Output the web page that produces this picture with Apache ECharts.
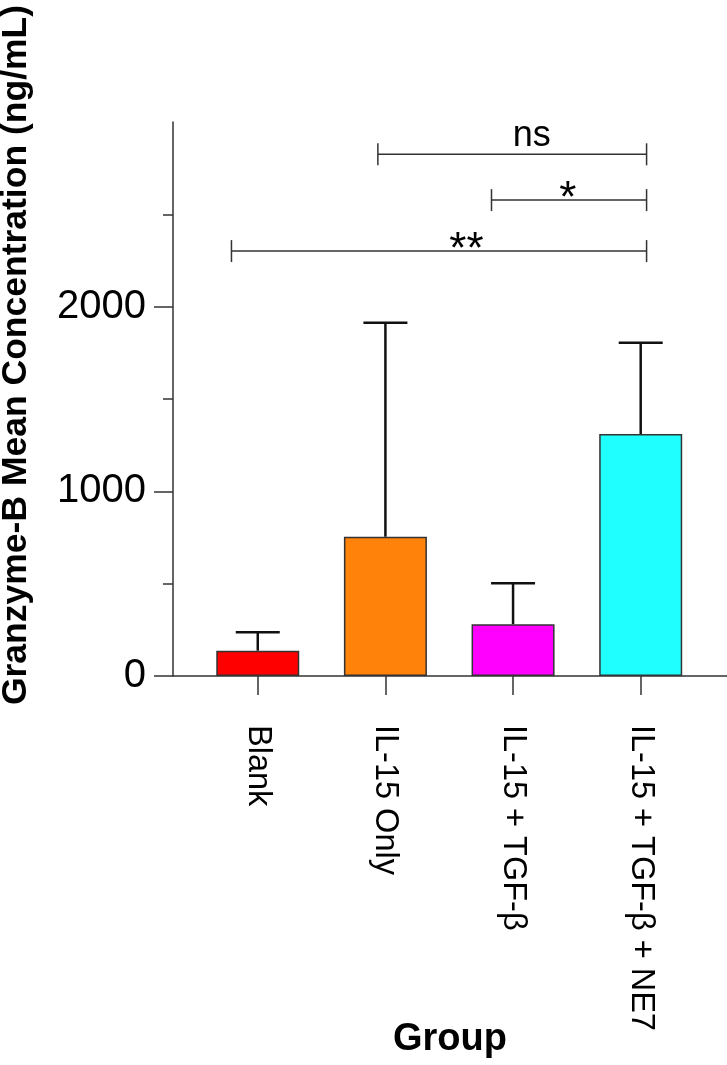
<!DOCTYPE html>
<html>
    <head>
        <meta charset="utf-8">
        <title>Granzyme-B</title>
        <style>
            html, body { margin: 0; padding: 0; background: #fff; }
            #chart1 { width: 727px; height: 1065px; }
        </style>
    </head>
    <body>
        <div id="chart1"></div>
    </body>
    <script src="https://cdn.jsdelivr.net/npm/echarts@6/dist/echarts.min.js"></script>
    <script>
        // 分组与数值
        var groups = ['Blank', 'IL-15 Only', 'IL-15 + TGF-β', 'IL-15 + TGF-β + NE7'];
        var means = [137, 754, 280, 1310];
        var upper = [237, 1913, 502, 1805];
        var barColors = ['#FF0000', '#FF820A', '#FF00FF', '#20FFFF'];

        // 显著性标记
        var sigFrom = [0.941, 1.831, -0.206];
        var sigTo = [3.046, 3.046, 3.046];
        var sigLevel = [2825, 2577, 2301];
        var sigText = ['ns', '*', '**'];
        var sigTextX = [2.147, 2.429, 1.635];

        var yMajor = [0, 1000, 2000];
        var yMinor = [500, 1500, 2500];

        var myChart1 = echarts.init(document.getElementById('chart1'));

        var barData = means.map(function (v, i) {
            return { value: [i, v], itemStyle: { color: barColors[i] } };
        });
        var errData = means.map(function (v, i) { return [i, v, upper[i]]; });
        var sigData = sigText.map(function (t, i) {
            return [sigFrom[i], sigTo[i], sigLevel[i], sigTextX[i], t];
        });

        myChart1.setOption({
            animation: false,
            grid: { left: 173, right: 0, top: 122, bottom: 389, outerBoundsMode: 'none' },
            xAxis: {
                type: 'value',
                min: -0.664,
                max: 3.676,
                name: 'Group',
                nameLocation: 'middle',
                nameGap: 345,
                nameMoveOverlap: false,
                nameTextStyle: { fontFamily: 'Liberation Sans', fontWeight: 'bold', fontSize: 38, color: '#000' },
                splitLine: { show: false },
                axisLine: { onZero: false, lineStyle: { color: '#333', width: 1.5 } },
                axisTick: { customValues: [0, 1, 2, 3], length: 19, lineStyle: { color: '#333', width: 1.5 } },
                axisLabel: {
                    customValues: [0, 1, 2, 3],
                    rotate: -90,
                    margin: 49,
                    fontFamily: 'Liberation Sans',
                    fontSize: 32.5,
                    color: '#000',
                    formatter: function (v) { return groups[Math.round(v)]; }
                }
            },
            yAxis: [{
                type: 'value',
                min: 0,
                max: 3000,
                splitLine: { show: false },
                axisLine: { show: true, onZero: false, lineStyle: { color: '#333', width: 1.5 } },
                axisTick: { show: true, customValues: yMajor, length: 19, lineStyle: { color: '#333', width: 1.5 } },
                axisLabel: {
                    customValues: yMajor,
                    margin: 27,
                    fontFamily: 'Liberation Sans',
                    fontSize: 40,
                    color: '#000',
                    formatter: function (v) { return String(v); }
                }
            }, {
                type: 'value',
                min: 0,
                max: 3000,
                position: 'left',
                splitLine: { show: false },
                axisLine: { show: false, onZero: false },
                axisLabel: { show: false },
                axisTick: { show: true, customValues: yMinor, length: 10, lineStyle: { color: '#333', width: 1.5 } }
            }],
            graphic: [{
                type: 'text',
                x: 16,
                y: 355,
                rotation: Math.PI / 2,
                style: {
                    text: 'Granzyme-B Mean Concentration (ng/mL)',
                    font: 'bold 35.5px "Liberation Sans"',
                    fill: '#000',
                    align: 'center',
                    verticalAlign: 'middle'
                }
            }],
            series: [{
                type: 'bar',
                data: barData,
                barWidth: 83,
                itemStyle: { borderColor: '#333', borderWidth: 1.5 }
            }, {
                type: 'custom',
                clip: false,
                data: errData,
                renderItem: function (params, api) {
                    var base = api.coord([api.value(0), api.value(1)]);
                    var top = api.coord([api.value(0), api.value(2)]);
                    var st = { stroke: '#111', lineWidth: 2.5 };
                    return {
                        type: 'group',
                        children: [
                            { type: 'line', shape: { x1: base[0], y1: base[1], x2: top[0], y2: top[1] }, style: st },
                            { type: 'line', shape: { x1: top[0] - 22, y1: top[1], x2: top[0] + 22, y2: top[1] }, style: st }
                        ]
                    };
                }
            }, {
                type: 'custom',
                clip: false,
                data: sigData,
                renderItem: function (params, api) {
                    var a = api.coord([api.value(0), api.value(2)]);
                    var b = api.coord([api.value(1), api.value(2)]);
                    var t = api.coord([api.value(3), api.value(2)]);
                    var label = sigText[params.dataIndex];
                    var isNs = label === 'ns';
                    var st = { stroke: '#333', lineWidth: 1.5 };
                    return {
                        type: 'group',
                        children: [
                            { type: 'line', shape: { x1: a[0], y1: a[1], x2: b[0], y2: b[1] }, style: st },
                            { type: 'line', shape: { x1: a[0], y1: a[1] - 11, x2: a[0], y2: a[1] + 11 }, style: st },
                            { type: 'line', shape: { x1: b[0], y1: b[1] - 11, x2: b[0], y2: b[1] + 11 }, style: st },
                            {
                                type: 'text',
                                x: t[0],
                                y: t[1] + (isNs ? -18 : 0),
                                style: {
                                    text: label,
                                    font: isNs ? '36px "Liberation Sans"' : '44px "Liberation Sans"',
                                    fill: '#000',
                                    align: 'center',
                                    verticalAlign: 'middle'
                                }
                            }
                        ]
                    };
                }
            }]
        });
    </script>
</html>
